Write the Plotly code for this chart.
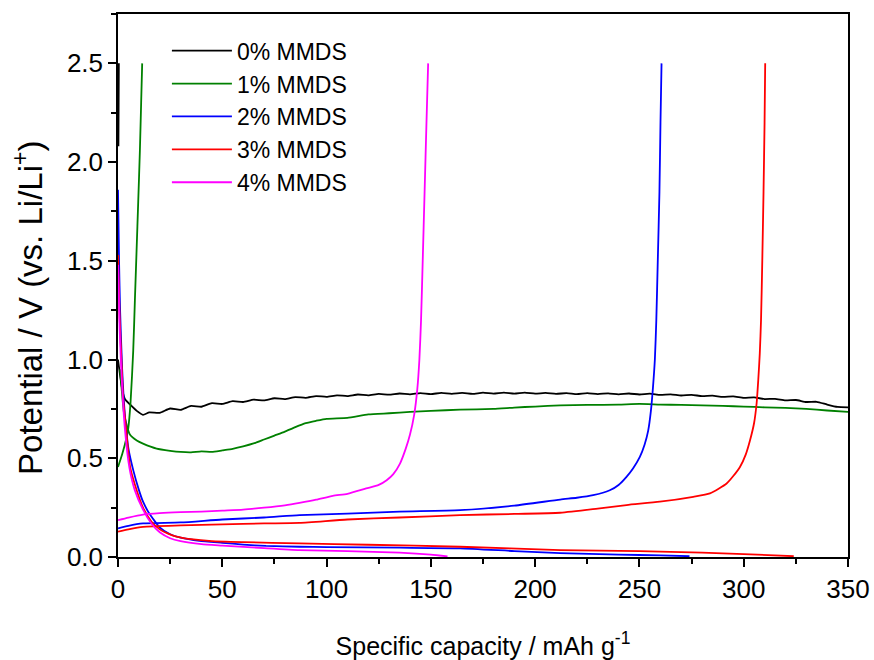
import plotly.graph_objects as go

# ---------------- data ----------------
labels = ["0% MMDS", "1% MMDS", "2% MMDS", "3% MMDS", "4% MMDS"]
colors = ["#000000", "#008000", "#0000FF", "#FF0000", "#FF00FF"]
x_title = "Specific capacity / mAh g<sup>-1</sup>"
y_title = "Potential / V (vs. Li/Li<sup>+</sup>)"

# 0% MMDS
d0_x = [0, 1, 2, 3.3, 6, 9, 12, 15, 20, 25, 30, 35, 40, 45, 50, 55, 60, 65, 70, 75, 80, 85, 90,
        95, 100, 105, 110, 115, 120, 125, 130, 135, 140, 145, 150, 155, 160, 165, 170, 175, 180,
        185, 190, 195, 200, 205, 210, 215, 220, 225, 230, 235, 240, 245, 250, 255, 260, 265, 270,
        275, 280, 285, 290, 295, 300, 305, 310, 315, 320, 325, 330, 335, 340, 345, 350]
d0_y = [1.00, 0.92, 0.85, 0.80, 0.77, 0.74, 0.72, 0.732, 0.730, 0.752, 0.745, 0.765, 0.761, 0.779,
        0.775, 0.789, 0.785, 0.797, 0.793, 0.804, 0.800, 0.810, 0.806, 0.815, 0.811, 0.819, 0.815,
        0.823, 0.819, 0.826, 0.822, 0.828, 0.824, 0.830, 0.825, 0.831, 0.826, 0.831, 0.826, 0.832,
        0.827, 0.832, 0.827, 0.832, 0.827, 0.831, 0.826, 0.830, 0.825, 0.830, 0.825, 0.829, 0.824,
        0.828, 0.823, 0.827, 0.821, 0.824, 0.818, 0.821, 0.815, 0.817, 0.811, 0.813, 0.806, 0.808,
        0.800, 0.801, 0.793, 0.795, 0.785, 0.786, 0.772, 0.760, 0.758]
c0_x = [0.2, 0.3, 0.4]
c0_y = [2.08, 2.30, 2.50]

# 1% MMDS
d1_x = [1, 3, 5.7, 9, 12, 18.5, 25, 30, 35, 40, 45, 50, 55, 60, 65, 70, 75, 80, 85, 90, 95, 100,
        110, 120, 130, 140, 150, 164, 180, 190, 200, 212, 225, 240, 250, 260, 270, 280, 290, 300,
        310, 320, 330, 340, 350]
d1_y = [0.95, 0.72, 0.62, 0.59, 0.574, 0.549, 0.538, 0.532, 0.530, 0.535, 0.532, 0.540, 0.548,
        0.560, 0.575, 0.595, 0.615, 0.635, 0.658, 0.678, 0.690, 0.700, 0.705, 0.722, 0.728, 0.735,
        0.740, 0.746, 0.750, 0.757, 0.762, 0.768, 0.770, 0.772, 0.775, 0.772, 0.770, 0.768, 0.765,
        0.762, 0.758, 0.755, 0.750, 0.742, 0.735]
c1_x = [0, 2, 4, 4.9, 6, 7.3, 8.1, 8.9, 9.7, 10.5, 11.1, 11.6]
c1_y = [0.456, 0.52, 0.60, 0.65, 0.78, 1.045, 1.30, 1.55, 1.80, 2.06, 2.30, 2.50]

# 2% MMDS
d2_x = [0, 0.5, 1, 2, 3.3, 5, 7.3, 10, 12, 15, 20, 25, 30, 39, 50, 60, 71, 87, 100, 135, 164,
        190, 212, 240, 260, 274]
d2_y = [1.86, 1.50, 1.25, 0.95, 0.72, 0.55, 0.44, 0.34, 0.28, 0.22, 0.15, 0.115, 0.098, 0.082,
        0.072, 0.063, 0.056, 0.052, 0.050, 0.047, 0.044, 0.030, 0.020, 0.012, 0.008, 0.004]
c2_x = [0, 5, 12, 30, 50, 70, 87, 110, 135, 164, 190, 212, 220, 227.8, 235.8, 240, 243.8, 247,
        250.2, 252.5, 254.2, 255.5, 256.5, 257.4, 258.1, 258.8, 259.6, 260.1, 260.6]
c2_y = [0.145, 0.158, 0.170, 0.175, 0.190, 0.200, 0.212, 0.220, 0.230, 0.237, 0.260, 0.291, 0.300,
        0.313, 0.338, 0.365, 0.406, 0.450, 0.507, 0.570, 0.640, 0.740, 0.860, 1.00, 1.20, 1.50,
        1.85, 2.20, 2.50]

# 3% MMDS
d3_x = [0, 0.8, 1.8, 2.5, 3.3, 5.8, 8, 12, 16, 20, 24, 28, 35, 45, 60, 87, 120, 164, 212, 250,
        280, 300, 324]
d3_y = [1.53, 1.21, 0.96, 0.80, 0.71, 0.456, 0.37, 0.25, 0.18, 0.14, 0.118, 0.103, 0.090, 0.080,
        0.075, 0.069, 0.062, 0.052, 0.035, 0.030, 0.022, 0.015, 0.004]
c3_x = [0, 5, 12, 30, 50, 70, 87, 110, 135, 164, 190, 212, 230, 243.8, 259.8, 275.8, 283.8,
        291.8, 295, 298.2, 301, 303, 305, 306.2, 307.0, 307.7, 308.3, 308.9, 309.5, 310.0, 310.3]
c3_y = [0.128, 0.140, 0.153, 0.160, 0.165, 0.170, 0.173, 0.190, 0.200, 0.212, 0.218, 0.224, 0.245,
        0.263, 0.280, 0.305, 0.322, 0.372, 0.410, 0.456, 0.520, 0.590, 0.680, 0.780, 0.900, 1.03,
        1.20, 1.50, 1.85, 2.20, 2.50]

# 4% MMDS
d4_x = [0, 0.8, 1.8, 3.3, 5.5, 8, 12, 16, 20, 25, 30, 40, 50, 70, 87, 110, 135, 150, 158]
d4_y = [1.48, 1.15, 0.90, 0.65, 0.45, 0.34, 0.24, 0.17, 0.125, 0.095, 0.080, 0.065, 0.058, 0.045,
        0.035, 0.030, 0.022, 0.012, 0.003]
c4_x = [0, 5, 12, 20, 30, 40, 50, 60, 70, 80, 87, 95, 103, 110, 119, 125, 128.8, 132, 135.2, 138,
        140, 142, 143.5, 144.5, 145.3, 146.1, 147.0, 147.9, 148.7]
c4_y = [0.187, 0.200, 0.215, 0.222, 0.227, 0.230, 0.235, 0.240, 0.250, 0.262, 0.274, 0.290, 0.310,
        0.320, 0.347, 0.365, 0.389, 0.420, 0.473, 0.550, 0.620, 0.720, 0.850, 1.00, 1.20, 1.50,
        1.85, 2.20, 2.50]

x_ticks = [0, 50, 100, 150, 200, 250, 300, 350]
y_ticks = [0.0, 0.5, 1.0, 1.5, 2.0, 2.5]

series = [
    (d0_x, d0_y, c0_x, c0_y),
    (d1_x, d1_y, c1_x, c1_y),
    (d2_x, d2_y, c2_x, c2_y),
    (d3_x, d3_y, c3_x, c3_y),
    (d4_x, d4_y, c4_x, c4_y),
]

FONT = "Liberation Sans, Arial, sans-serif"

fig = go.Figure()
for (dx, dy, cx, cy), lab, col in zip(series, labels, colors):
    fig.add_trace(go.Scatter(x=dx, y=dy, mode="lines", name=lab, legendgroup=lab,
                             line=dict(color=col, width=1.8, shape="spline", smoothing=0.5),
                             showlegend=True))
    fig.add_trace(go.Scatter(x=cx, y=cy, mode="lines", name=lab, legendgroup=lab,
                             line=dict(color=col, width=1.8, shape="spline", smoothing=0.6),
                             showlegend=False))

axis_common = dict(
    showgrid=False, zeroline=False, showline=True, linecolor="black", linewidth=1.5,
    mirror=True, ticks="outside", ticklen=8, tickwidth=1.5, tickcolor="black",
    tickfont=dict(family=FONT, size=26, color="black"), automargin=False,
)

fig.update_xaxes(
    range=[0, 350], tickvals=x_ticks, ticktext=[str(v) for v in x_ticks],
    minor=dict(ticks="outside", ticklen=5, tickwidth=1.5, tickcolor="black", dtick=25, tick0=0),
    title=dict(text=x_title, font=dict(family=FONT, size=25, color="black"), standoff=40),
    **axis_common,
)
fig.update_yaxes(
    range=[0, 2.75], tickvals=y_ticks, ticktext=[f"{v:.1f}" for v in y_ticks],
    minor=dict(ticks="outside", ticklen=5, tickwidth=1.5, tickcolor="black", dtick=0.25, tick0=0),
    **axis_common,
)

# y-axis title placed as a rotated annotation (slightly below the plot centre, as in the reference)
fig.add_annotation(
    text=y_title, textangle=-90, showarrow=False,
    xref="paper", yref="paper", x=0, y=0.4586, xanchor="center", yanchor="middle",
    xshift=-90, font=dict(family=FONT, size=33, color="black"),
)

fig.update_layout(
    width=874, height=660,
    margin=dict(l=118, r=26, t=14, b=103),
    plot_bgcolor="white", paper_bgcolor="white",
    font=dict(family=FONT, color="black"),
    legend=dict(x=0.067, y=0.972, xanchor="left", yanchor="top",
                font=dict(family=FONT, size=23, color="black"),
                bgcolor="rgba(0,0,0,0)", borderwidth=0, tracegroupgap=0,
                itemwidth=60),
    showlegend=True,
)

fig.write_html("out.html")
